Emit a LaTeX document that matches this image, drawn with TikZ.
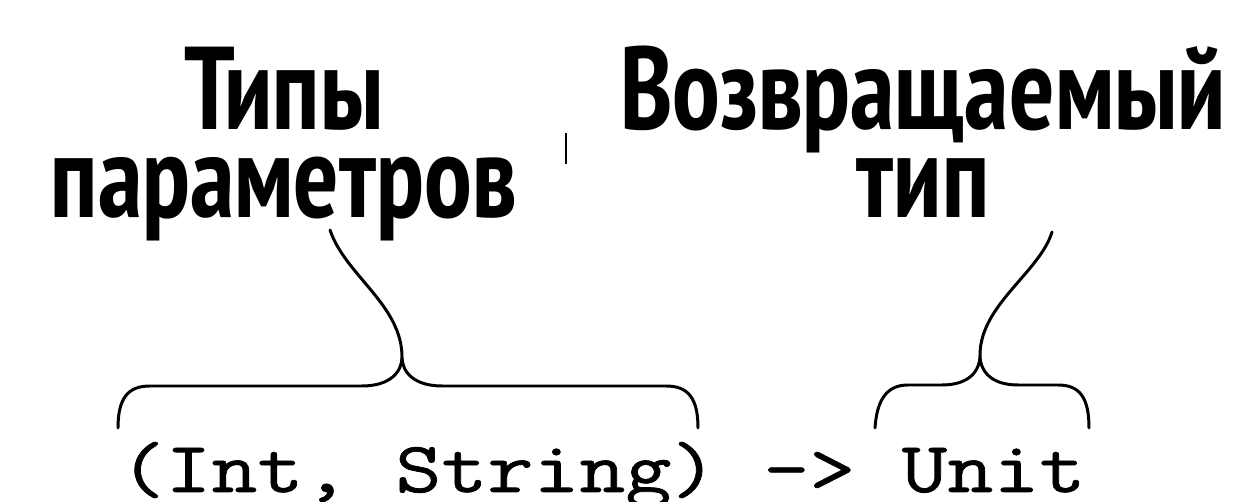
\documentclass[tikz,border=0pt]{standalone}
\usepackage{fontspec}
\IfFontExistsTF{PT Sans Narrow}
  {\newfontfamily\headfont{PT Sans Narrow}[FakeStretch=0.91]}
  {\newfontfamily\headfont{PT Sans}[FakeStretch=0.8]}
\newfontfamily\codefont{Latin Modern Mono}[FakeStretch=1.24, FakeBold=1]

\begin{document}
\begin{tikzpicture}[
    line cap=round,
    line join=round,
    % pixel grid of the picture, y runs downwards
    x=0.02cm, y=-0.02cm
]

% ---------------------------------------------------------
% Bounding box (1252 x 502)
% ---------------------------------------------------------
\path [use as bounding box] (0,0) rectangle (1252,502);

\tikzset{head label/.style={align=center, anchor=base,
    font=\headfont\bfseries\fontsize{67pt}{50.1pt}\selectfont}}
\tikzset{brace line/.style={black, line width=1.7pt}}

% Labels (base = baseline of the last line)
\node[head label] (params) at (284,218) {Типы\\параметров};
\node[head label] (ret)    at (923,218) {Возвращаемый\\тип};

% Signature
\node[anchor=base, inner sep=0pt,
      font=\codefont\fontsize{41pt}{48pt}\selectfont] (sig) at (602.5,492)
    {(Int, String) -> Unit};

% Brace over the parameter types
\coordinate (PL) at (118,428);  % left end
\coordinate (PC) at (402,357);  % cusp
\coordinate (PR) at (698,428);  % right end
\coordinate (PT) at (330,230);  % tail end

\draw[brace line]
    (PL) .. controls (118,398) and (128,386) .. (150,386)
    -- (362,386) .. controls (390,386) and (402,372) .. (PC)
    .. controls (402,372) and (414,386) .. (442,386)
    -- (666,386) .. controls (688,386) and (698,398) .. (PR)
    (PC) .. controls (402,305) and (345,275) .. (PT);

% Brace over the return type
\coordinate (RL) at (875,428);
\coordinate (RC) at (980,355);
\coordinate (RR) at (1089,428);
\coordinate (RT) at (1052,232);

\draw[brace line]
    (RL) .. controls (877,398) and (888,385) .. (908,385)
    -- (942,385) .. controls (968,385) and (980,372) .. (RC)
    .. controls (980,372) and (992,385) .. (1018,385)
    -- (1058,385) .. controls (1080,385) and (1089,398) .. (RR)
    (RC) .. controls (980,305) and (1040,272) .. (RT);

% Small stray tick between the labels
\draw[line width=1.1pt, line cap=butt] (566,133) -- (566,164);

\end{tikzpicture}
\end{document}
